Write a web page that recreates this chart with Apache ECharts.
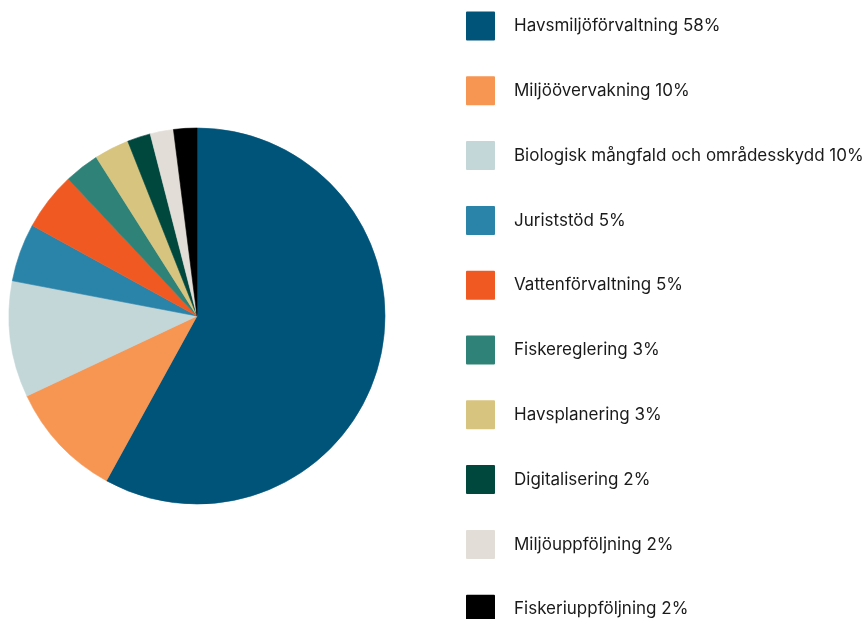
<!DOCTYPE html>
<html>
<head>
<meta charset="utf-8">
<script src="https://cdn.jsdelivr.net/npm/echarts@6/dist/echarts.min.js"></script>
<style>html,body{margin:0;padding:0;background:#fff}#c{width:866px;height:619px}</style>
</head>
<body>
<div id="c"></div>
<script>
var categories = ["Havsmiljöförvaltning", "Miljöövervakning", "Biologisk mångfald och områdesskydd", "Juriststöd", "Vattenförvaltning", "Fiskereglering", "Havsplanering", "Digitalisering", "Miljöuppföljning", "Fiskeriuppföljning"];
var values = [58, 10, 10, 5, 5, 3, 3, 2, 2, 2];
var colors = ["#00547a", "#f79552", "#c3d6d8", "#2a83a8", "#f05a22", "#2e8277", "#d7c47f", "#00473e", "#e2ded7", "#000000"];

var data = categories.map(function (c, i) {
  return { name: c, value: values[i], itemStyle: { color: colors[i], borderColor: colors[i], borderWidth: 0.6 } };
});
var rowStep = 64.8;
function legendFor(name, top) {
  return {
    orient: 'vertical',
    left: 466,
    top: top,
    padding: 0,
    itemWidth: 27,
    itemHeight: 27,
    icon: 'rect',
    textStyle: { fontFamily: 'Inter, "Noto Sans", sans-serif', fontSize: 17, lineHeight: 27, color: '#1a1a1a', padding: [0, 0, 0, 15] },
    formatter: function (n) {
      var i = categories.indexOf(n);
      return n + ' ' + values[i] + '%';
    },
    data: [name]
  };
}
var chart = echarts.init(document.getElementById('c'), null, { renderer: 'canvas' });
chart.setOption({
  animation: false,
  legend: categories.map(function (c, i) { return legendFor(c, 11.5 + i * rowStep); }),
  series: [{
    type: 'pie',
    center: [197, 316],
    radius: [0, 188],
    startAngle: 90,
    clockwise: true,
    label: { show: false },
    labelLine: { show: false },
    emphasis: { disabled: true },
    data: data
  }]
});
</script>
</body>
</html>
